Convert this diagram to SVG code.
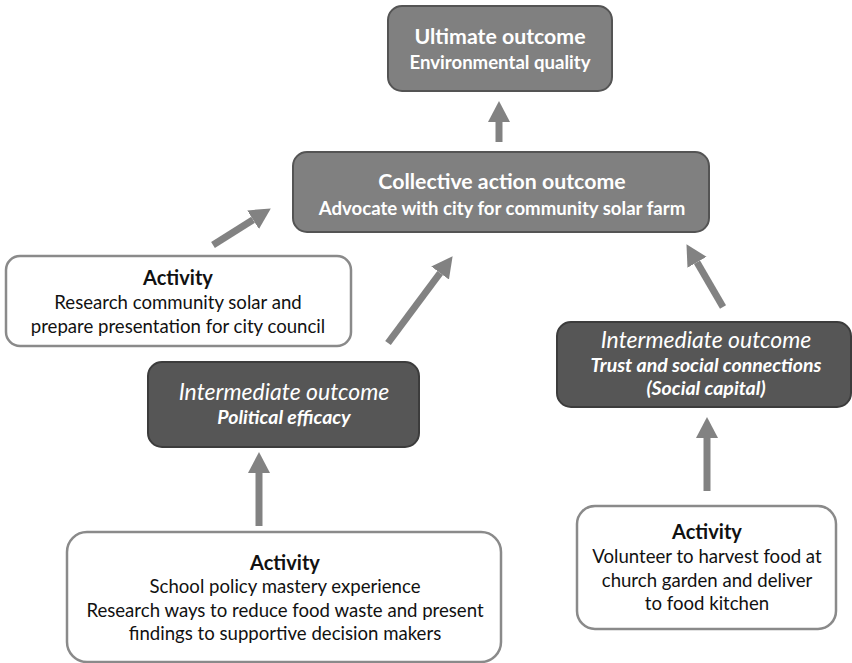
<svg xmlns="http://www.w3.org/2000/svg" width="852" height="663" viewBox="0 0 852 663">
  <style>
    text { font-family: Lato, "Open Sans", "Liberation Sans", sans-serif; text-anchor: middle; }
    .outcome { fill: #808080; stroke: #545454; stroke-width: 2; }
    .inter { fill: #565656; stroke: #3c3c3c; stroke-width: 2; }
    .activity { fill: #ffffff; stroke: #8a8a8a; stroke-width: 2.5; }
    .light { fill: #ffffff; }
    .dark { fill: #111111; }
    .head { font-size: 21.3px; font-weight: bold; }
    .act { font-size: 20px; font-weight: bold; }
    .sub { font-size: 18.6px; font-weight: bold; }
    .ihead { font-size: 23px; font-style: italic; }
    .isub { font-size: 19.5px; font-style: italic; font-weight: bold; }
    .body { font-size: 18.6px; }
    .shaft { stroke: #828282; stroke-width: 7; fill: none; marker-end: url(#tip); }
  </style>
  <defs>
    <marker id="tip" markerUnits="userSpaceOnUse" markerWidth="22" markerHeight="24" viewBox="0 -11 21 22" refX="0" refY="0" orient="auto">
      <path d="M0,-10.5 L20,0 L0,10.5 Z" fill="#828282"/>
    </marker>
  </defs>

  <!-- connectors -->
  <g id="connectors">
    <line class="shaft" x1="499" y1="142" x2="499" y2="122"/>
    <line class="shaft" x1="213" y1="245" x2="253.1" y2="219.7"/>
    <line class="shaft" x1="388" y1="343" x2="440.1" y2="273"/>
    <line class="shaft" x1="723" y1="307" x2="697" y2="262.3"/>
    <line class="shaft" x1="259" y1="526" x2="259" y2="473"/>
    <line class="shaft" x1="707" y1="491" x2="707" y2="438"/>
  </g>

  <g id="ultimate">
    <rect class="outcome" x="388" y="6" width="224" height="85" rx="14"/>
    <text class="head light" x="500" y="44">Ultimate outcome</text>
    <text class="sub light" x="500" y="69">Environmental quality</text>
  </g>

  <g id="collective">
    <rect class="outcome" x="293" y="152" width="416" height="80" rx="14"/>
    <text class="head light" x="502" y="189">Collective action outcome</text>
    <text class="sub light" x="502" y="215">Advocate with city for community solar farm</text>
  </g>

  <g id="activity-solar">
    <rect class="activity" x="6" y="256" width="345" height="90" rx="14"/>
    <text class="act dark" x="178" y="285">Activity</text>
    <text class="body dark" x="178" y="309">Research community solar and</text>
    <text class="body dark" x="178" y="333">prepare presentation for city council</text>
  </g>

  <g id="intermediate-efficacy">
    <rect class="inter" x="148" y="362" width="271" height="85" rx="14"/>
    <text class="ihead light" x="284" y="400">Intermediate outcome</text>
    <text class="isub light" x="284" y="424">Political efficacy</text>
  </g>

  <g id="intermediate-social">
    <rect class="inter" x="557" y="322" width="294" height="85" rx="14"/>
    <text class="ihead light" x="706" y="348">Intermediate outcome</text>
    <text class="isub light" x="706" y="372">Trust and social connections</text>
    <text class="isub light" x="706" y="395">(Social capital)</text>
  </g>

  <g id="activity-school">
    <rect class="activity" x="67" y="532" width="434" height="130" rx="20"/>
    <text class="act dark" x="285" y="570">Activity</text>
    <text class="body dark" x="285" y="593">School policy mastery experience</text>
    <text class="body dark" x="285" y="617">Research ways to reduce food waste and present</text>
    <text class="body dark" x="285" y="640">findings to supportive decision makers</text>
  </g>

  <g id="activity-volunteer">
    <rect class="activity" x="577" y="506" width="259" height="123" rx="18"/>
    <text class="act dark" x="707" y="539">Activity</text>
    <text class="body dark" x="707" y="563">Volunteer to harvest food at</text>
    <text class="body dark" x="707" y="587">church garden and deliver</text>
    <text class="body dark" x="707" y="610">to food kitchen</text>
  </g>
</svg>
